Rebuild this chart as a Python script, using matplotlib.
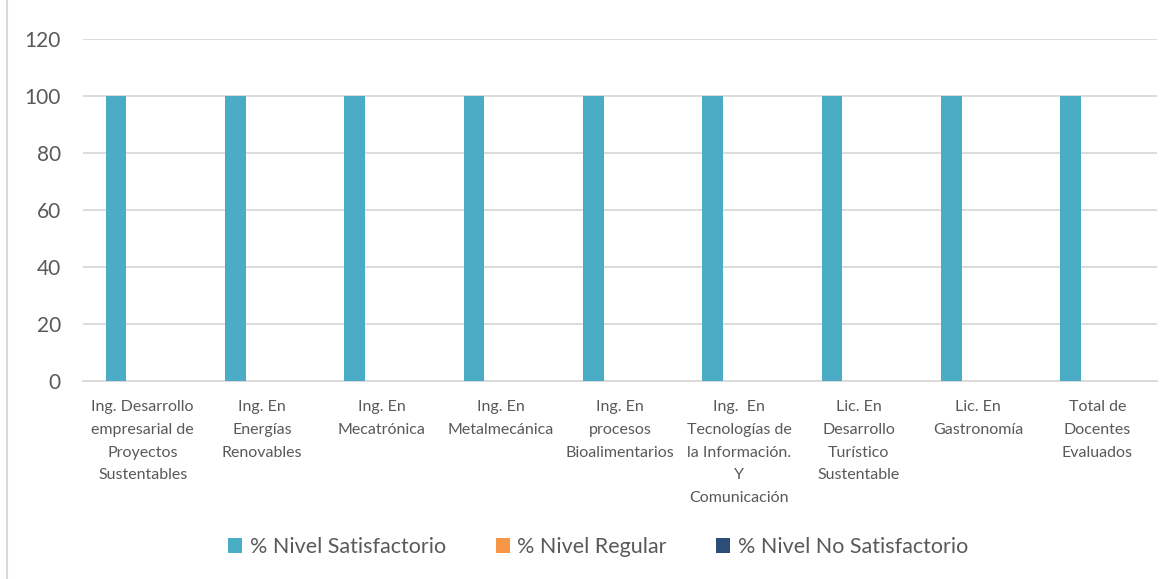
import numpy as np
import matplotlib.pyplot as plt
from matplotlib.lines import Line2D

plt.rcParams["font.family"] = ["Lato", "DejaVu Sans"]

categories = [
    "Ing. Desarrollo\nempresarial de\nProyectos\nSustentables",
    "Ing. En\nEnergías\nRenovables",
    "Ing. En\nMecatrónica",
    "Ing. En\nMetalmecánica",
    "Ing. En\nprocesos\nBioalimentarios",
    "Ing.  En\nTecnologías de\nla Información.\nY\nComunicación",
    "Lic. En\nDesarrollo\nTurístico\nSustentable",
    "Lic. En\nGastronomía",
    "Total de\nDocentes\nEvaluados",
]
satisfactorio = [100, 100, 100, 100, 100, 100, 100, 100, 100]
regular = [0, 0, 0, 0, 0, 0, 0, 0, 0]
no_satisfactorio = [0, 0, 0, 0, 0, 0, 0, 0, 0]

series = [
    ("% Nivel Satisfactorio", satisfactorio, "#4BACC6"),
    ("% Nivel Regular", regular, "#F79646"),
    ("% Nivel No Satisfactorio", no_satisfactorio, "#2C4D75"),
]

TEXT = "#595959"
GRID = "#d9d9d9"

fig = plt.figure(figsize=(11.73, 5.79), dpi=100)
ax = fig.add_axes([0.0708, 0.342, 0.9156, 0.5915])

x = np.arange(len(categories))
bar_w = 0.174
step = 0.223
for i, (name, vals, color) in enumerate(series):
    ax.bar(x + (i - 1) * step, vals, bar_w, color=color, label=name, zorder=3)

ax.set_xlim(-0.5, len(categories) - 0.5)
ax.set_ylim(0, 120)
ax.set_yticks(range(0, 121, 20))
ax.yaxis.grid(True, color=GRID, linewidth=1.3, zorder=0)
ax.set_xticks(x)
ax.set_xticklabels(categories, fontsize=11.5, color=TEXT, linespacing=1.78)
ax.tick_params(axis="y", labelsize=15, colors=TEXT, length=0, pad=16)
ax.tick_params(axis="x", length=0, pad=14)
for side in ["top", "right", "left"]:
    ax.spines[side].set_visible(False)
ax.spines["bottom"].set_color(GRID)
ax.spines["bottom"].set_linewidth(1.3)

fig.legend(loc="center", bbox_to_anchor=(0.51, 0.0553), ncol=3, frameon=False,
           fontsize=15.5, labelcolor=TEXT, handlelength=0.65, handleheight=0.65,
           handletextpad=0.35, columnspacing=2.3)

# chart area border on the left
fig.add_artist(Line2D([0.0063, 0.0063], [0, 1], color=GRID, linewidth=1.5,
                      transform=fig.transFigure))

fig.savefig("out.png", dpi=100)
